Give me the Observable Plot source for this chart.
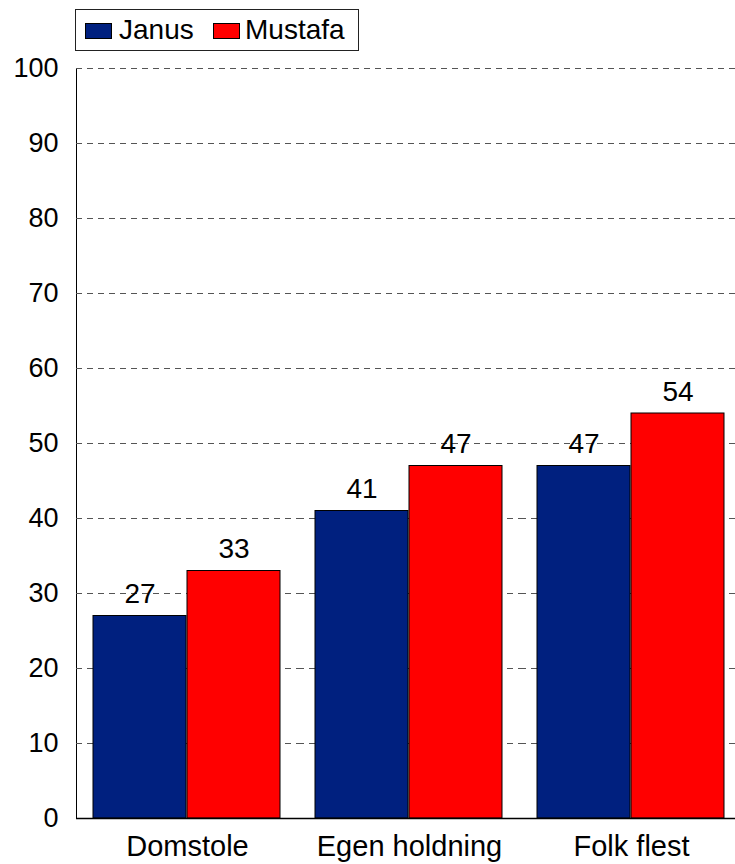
<!DOCTYPE html>
<html>
<head>
<meta charset="utf-8">
<script src="https://cdn.jsdelivr.net/npm/d3@7"></script>
<script src="https://cdn.jsdelivr.net/npm/@observablehq/plot@0.6"></script>
<style>
  html, body { margin: 0; padding: 0; background: #fff; }
  #wrap { position: relative; width: 735px; height: 864px; overflow: hidden; font-family: "Liberation Sans", Arial, sans-serif; }
  #legend { position: absolute; left: 75px; top: 9px; width: 282px; height: 40px; border: 1px solid #222; background: #fff; z-index: 2; }
  .sw { position: absolute; top: 13px; width: 25px; height: 14px; border: 1px solid #000; }
  .lt { position: absolute; top: 4px; font-size: 28px; line-height: 32px; color: #000; }
</style>
</head>
<body>
<div id="wrap">
  <div id="legend"></div>
  <div id="chart"></div>
</div>
<script>
const categories = ["Domstole", "Egen holdning", "Folk flest"];
const series = ["Janus", "Mustafa"];
const janus = [27, 41, 47];
const mustafa = [33, 47, 54];
const yTicks = [0, 10, 20, 30, 40, 50, 60, 70, 80, 90, 100];
const colors = ["#00207f", "#ff0000"];

const data = [];
categories.forEach((c, i) => {
  data.push({category: c, series: series[0], value: janus[i]});
  data.push({category: c, series: series[1], value: mustafa[i]});
});

// legend
const legend = document.getElementById("legend");
const legendPos = [{sw: 9, tx: 43}, {sw: 137, tx: 169}];
series.forEach((s, i) => {
  const sw = document.createElement("div");
  sw.className = "sw";
  sw.style.left = legendPos[i].sw + "px";
  sw.style.background = colors[i];
  legend.appendChild(sw);
  const t = document.createElement("div");
  t.className = "lt";
  t.style.left = legendPos[i].tx + "px";
  t.textContent = s;
  legend.appendChild(t);
});

const chart = Plot.plot({
  width: 735,
  height: 864,
  marginTop: 68,
  marginBottom: 46,
  marginLeft: 75,
  marginRight: -7.5,
  style: {fontFamily: "'Liberation Sans', Arial, sans-serif", fontSize: "27px", color: "#000", background: "#fff"},
  fx: {domain: categories, padding: 0, label: null, axis: "bottom", tickSize: 0, tickPadding: 17},
  x: {domain: series, paddingInner: 0.01, paddingOuter: 0.18, axis: null},
  y: {domain: [0, 100], ticks: yTicks, tickSize: 0, tickPadding: 18, label: null, line: true},
  color: {domain: series, range: colors},
  marks: [
    Plot.ruleY(yTicks.filter(d => d > 0), {stroke: "#555", strokeWidth: 1, strokeDasharray: "6,5"}),
    Plot.barY(data, {fx: "category", x: "series", y: "value", fill: "series", stroke: "#000", strokeWidth: 1}),
    Plot.text(data, {fx: "category", x: "series", y: "value", text: d => String(d.value), lineAnchor: "bottom", dy: -13, fontSize: 28, fill: "#000"}),
    Plot.ruleY([0], {stroke: "#000", strokeWidth: 1.5})
  ]
});
d3.select(chart).selectAll('g[aria-label="fx-axis tick label"], g[aria-label="fx-axis"]').attr("font-size", 29);
document.getElementById("chart").appendChild(chart);
</script>
</body>
</html>
